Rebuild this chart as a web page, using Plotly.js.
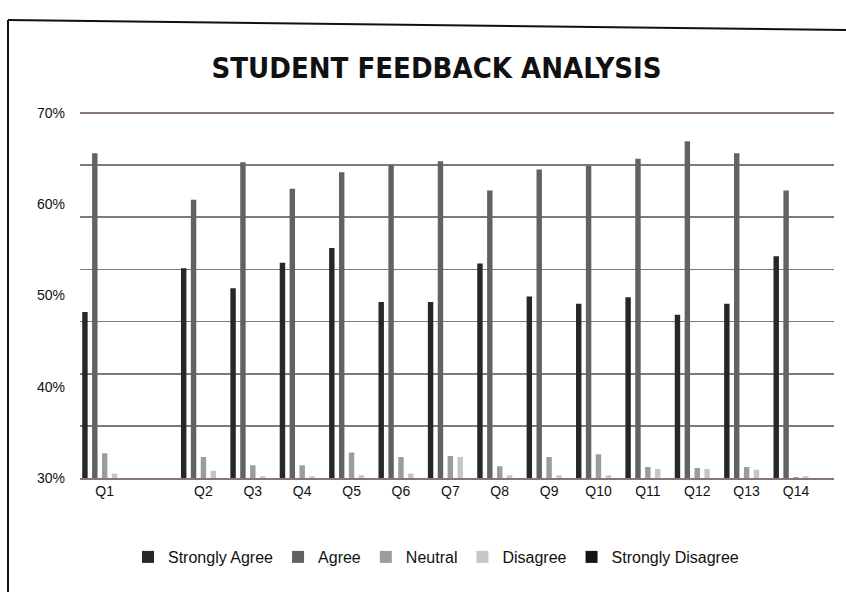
<!DOCTYPE html>
<html>
<head>
<meta charset="utf-8">
<script src="https://cdn.plot.ly/plotly-3.0.1.min.js"></script>
<style>
  html, body { margin: 0; padding: 0; background: #ffffff; }
  #chart { width: 846px; height: 592px; }
</style>
</head>
<body>
<div id="chart"></div>
<script>
// Categories (an empty slot sits between Q1 and Q2 in the original)
const categories = ['Q1', ' ', 'Q2', 'Q3', 'Q4', 'Q5', 'Q6', 'Q7', 'Q8', 'Q9', 'Q10', 'Q11', 'Q12', 'Q13', 'Q14'];

// Series values (percent), null for the empty slot
const stronglyAgree    = [48.2, null, 53.0, 50.8, 53.6, 55.2, 49.3, 49.3, 53.5, 49.9, 49.1, 49.8, 47.9, 49.1, 54.3];
const agree            = [65.6, null, 60.5, 64.6, 61.7, 63.5, 64.3, 64.7, 61.5, 63.8, 64.2, 65.0, 66.9, 65.6, 61.5];
const neutral          = [32.7, null, 32.3, 31.4, 31.4, 32.8, 32.3, 32.4, 31.3, 32.3, 32.6, 31.2, 31.1, 31.2, 30.1];
const disagree         = [30.5, null, 30.8, 30.2, 30.2, 30.3, 30.5, 32.3, 30.3, 30.3, 30.3, 31.0, 31.0, 30.9, 30.2];
const stronglyDisagree = [0, null, 0, 0, 0, 0, 0, 0, 0, 0, 0, 0, 0, 0, 0];

const seriesNames = ['Strongly Agree', 'Agree', 'Neutral', 'Disagree', 'Strongly Disagree'];

// Y tick labels
const yTickVals = [30, 40, 50, 60, 70];
const yTickText = ['30%', '40%', '50%', '60%', '70%'];

const colors = ['#272727', '#626262', '#9c9c9c', '#c6c6c6', '#141414'];
const seriesData = [stronglyAgree, agree, neutral, disagree, stronglyDisagree];

const traces = seriesData.map((vals, i) => ({
  type: 'bar',
  name: seriesNames[i],
  x: categories,
  y: vals,
  marker: { color: colors[i], line: { width: 0 } },
  hoverinfo: 'x+y+name'
}));

// invisible trace to drive the overlay grid axis
traces.push({
  type: 'scatter', x: [categories[0]], y: [1], yaxis: 'y2',
  mode: 'markers', marker: { opacity: 0 }, showlegend: false, hoverinfo: 'skip'
});

const TOP = 110, BOTTOM = 478, LEFT = 80, RIGHT = 834;
const pxX = p => (p - LEFT) / (RIGHT - LEFT);
const pxY = p => (BOTTOM - p) / (BOTTOM - TOP);

const layout = {
  width: 846,
  height: 592,
  margin: { l: LEFT, r: 846 - RIGHT, t: TOP, b: 592 - BOTTOM },
  paper_bgcolor: '#ffffff',
  plot_bgcolor: 'rgba(0,0,0,0)',
  font: { family: 'Liberation Sans, Arial, sans-serif', color: '#111111', size: 14 },
  title: {
    text: '<b>STUDENT FEEDBACK ANALYSIS</b>',
    font: { family: 'Liberation Sans Narrow, DejaVu Sans Condensed, Arial Narrow, sans-serif', size: 29, color: '#111111' },
    x: 0.516, xref: 'container', xanchor: 'center',
    y: 1 - 68 / 592, yref: 'container', yanchor: 'middle'
  },
  barmode: 'group',
  bargap: 0.0,
  bargroupgap: 0.45,
  xaxis: {
    type: 'category',
    range: [-0.5, 14.77],
    showgrid: false,
    zeroline: false,
    showline: true,
    linecolor: '#887576',
    linewidth: 1.6,
    ticks: '',
    tickfont: { size: 14, family: 'Liberation Sans, Arial, sans-serif', color: '#111' },
    fixedrange: true
  },
  yaxis: {
    range: [30, 70.33],
    tickmode: 'array',
    tickvals: yTickVals,
    ticktext: yTickText,
    showgrid: false,
    zeroline: false,
    showline: false,
    ticks: '',
    ticklabelstandoff: 14,
    tickfont: { size: 14, family: 'Liberation Sans, Arial, sans-serif', color: '#111' },
    fixedrange: true
  },
  yaxis2: {
    overlaying: 'y',
    range: [0, 7.0575],
    tickmode: 'linear',
    dtick: 1,
    tick0: 0,
    showgrid: true,
    gridcolor: '#887576',
    gridwidth: 1.6,
    showticklabels: false,
    zeroline: false,
    showline: false,
    ticks: '',
    fixedrange: true
  },
  legend: {
    orientation: 'h',
    x: pxX(436), xanchor: 'center',
    y: pxY(557), yanchor: 'middle',
    font: { size: 16, family: 'Liberation Sans, Arial, sans-serif', color: '#111' },
    itemwidth: 30,
    traceorder: 'normal'
  },
  shapes: [
    { type: 'line', xref: 'paper', yref: 'paper',
      x0: pxX(8), y0: pxY(20), x1: pxX(8), y1: pxY(600),
      line: { color: '#111111', width: 2 } },
    { type: 'line', xref: 'paper', yref: 'paper',
      x0: pxX(8), y0: pxY(20), x1: pxX(850), y1: pxY(30),
      line: { color: '#111111', width: 2 } }
  ],
  showlegend: true
};

Plotly.newPlot('chart', traces, layout, { displayModeBar: false, staticPlot: true });
</script>
</body>
</html>
